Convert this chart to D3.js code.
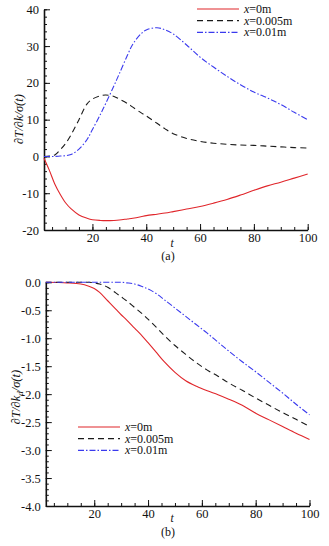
<!DOCTYPE html>
<html>
<head>
<meta charset="utf-8">
<script src="https://cdn.jsdelivr.net/npm/d3@7"></script>
<style>
	body { margin: 0; background: #fff; }
	svg { display: block; }
	text { font-family: 'Liberation Serif', 'DejaVu Serif', serif; fill: #111; }
</style>
</head>
<body>
<svg id="chart" width="329" height="546"></svg>
<script>
// ---- data: panel (a) ----
const tA = [2, 4, 6, 8, 10, 12, 15, 18, 20, 23, 25, 28, 30, 33, 35, 38, 40, 44, 47, 50, 55, 60, 65, 70, 75, 80, 85, 90, 95, 100];
const a_x0 = [-0.5, -3.8, -7.5, -10.3, -12.6, -14.2, -15.9, -16.8, -17.2, -17.4, -17.45, -17.4, -17.3, -17.0, -16.8, -16.4, -16.1, -15.7, -15.4, -15.0, -14.3, -13.6, -12.7, -11.7, -10.5, -9.2, -8.0, -7.0, -5.9, -4.8];
const a_x005 = [0, 0.1, 0.4, 1.8, 3.5, 5.8, 10.0, 14.3, 15.6, 16.5, 16.7, 16.3, 15.6, 14.4, 13.4, 11.9, 11.0, 9.0, 7.5, 6.2, 4.9, 4.1, 3.6, 3.3, 3.1, 3.0, 2.8, 2.6, 2.4, 2.3];
const a_x01 = [0, 0, 0, 0.1, 0.2, 0.5, 2.0, 4.6, 7.3, 11.5, 14.5, 19.2, 22.5, 27.5, 30.5, 33.3, 34.4, 35.0, 34.4, 33.3, 30.3, 27.0, 24.3, 21.8, 19.5, 17.5, 15.9, 14.1, 12.0, 10.0];

// ---- data: panel (b) ----
const tB = [2, 10, 15, 18, 20, 22, 25, 28, 30, 32, 35, 38, 40, 43, 46, 50, 54, 58, 62, 66, 70, 75, 80, 85, 90, 95, 100];
const b_x0 = [0, -0.01, -0.03, -0.07, -0.11, -0.18, -0.33, -0.48, -0.58, -0.67, -0.82, -0.97, -1.08, -1.25, -1.42, -1.61, -1.76, -1.86, -1.94, -2.01, -2.09, -2.2, -2.34, -2.46, -2.58, -2.7, -2.81];
const b_x005 = [0, 0, 0, 0, -0.01, -0.03, -0.09, -0.19, -0.26, -0.33, -0.45, -0.57, -0.66, -0.8, -0.95, -1.13, -1.29, -1.44, -1.57, -1.68, -1.8, -1.93, -2.07, -2.2, -2.33, -2.45, -2.58];
const b_x01 = [0, 0, 0, 0, 0, 0, 0, 0, 0, -0.01, -0.03, -0.08, -0.12, -0.2, -0.31, -0.46, -0.61, -0.76, -0.91, -1.07, -1.23, -1.42, -1.6, -1.79, -1.98, -2.18, -2.37];

const legendLabels = ['0m', '0.005m', '0.01m'];
const xMajor = [20, 40, 60, 80, 100];
const xMinor = d3.range(5, 101, 5);
const yMajorA = d3.range(-20, 41, 10);
const yMinorA = d3.range(-20, 41, 2);
const yMajorB = d3.range(-4, 0.01, 0.5);
const yMinorB = d3.range(-40, 1, 1).map((d) => d / 10);

const styles = [
	{ color: '#e0262b', dash: null },
	{ color: '#1a1a1a', dash: '6,4' },
	{ color: '#3a3aee', dash: '6,2,1.5,2' },
];

const svg = d3.select('#chart');
const fmt = (d) => d3.format('.1f')(d).replace('−', '-');

function panel(cfg) {
	const g = svg.append('g');
	const x = d3.scaleLinear().domain([2, 100]).range(cfg.xRange);
	const y = d3.scaleLinear().domain(cfg.yDomain).range(cfg.yRange);

	// minor ticks
	g.append('g')
		.attr('transform', `translate(0,${cfg.yRange[0]})`)
		.call(d3.axisBottom(x).tickValues(xMinor).tickSize(-3).tickFormat(''))
		.call((a) => a.select('.domain').remove());
	g.append('g')
		.attr('transform', `translate(${cfg.xRange[0]},0)`)
		.call(d3.axisLeft(y).tickValues(cfg.yMinor).tickSize(-3).tickFormat(''))
		.call((a) => a.select('.domain').remove());

	// major
	const xa = g.append('g')
		.attr('transform', `translate(0,${cfg.yRange[0]})`)
		.call(d3.axisBottom(x).tickValues(xMajor).tickSize(-6).tickSizeOuter(0).tickPadding(3));
	g.append('g')
		.attr('transform', `translate(${cfg.xRange[0]},0)`)
		.call(d3.axisLeft(y).tickValues(cfg.yMajor).tickSize(-6).tickSizeOuter(0).tickPadding(5).tickFormat(cfg.yFmt));

	g.selectAll('.tick line').attr('stroke', '#111').attr('stroke-width', 1);
	g.selectAll('.domain').attr('stroke', '#111').attr('stroke-width', 1.6);
	g.selectAll('.tick text')
		.style('font-family', "'Liberation Serif', serif")
		.style('font-size', '12.5px')
		.attr('fill', '#222');
	xa.selectAll('.tick text').attr('dy', '0.72em');

	const line = d3.line()
		.x((d) => x(d[0]))
		.y((d) => y(d[1]))
		.curve(d3.curveCatmullRom.alpha(0.5));

	cfg.series.forEach((s, i) => {
		g.append('path')
			.datum(cfg.t.map((t, k) => [t, s[k]]))
			.attr('fill', 'none')
			.attr('stroke', styles[i].color)
			.attr('stroke-width', 1.1)
			.attr('stroke-dasharray', styles[i].dash)
			.attr('d', line);
	});

	// legend
	const lg = g.append('g');
	legendLabels.forEach((lab, i) => {
		const ly = cfg.legend.y + i * 11.7;
		lg.append('line')
			.attr('x1', cfg.legend.x).attr('x2', cfg.legend.x + 42)
			.attr('y1', ly).attr('y2', ly)
			.attr('stroke', styles[i].color)
			.attr('stroke-width', 1.2)
			.attr('stroke-dasharray', styles[i].dash);
		const t = lg.append('text')
			.attr('x', cfg.legend.x + 47)
			.attr('y', ly + 4)
			.style('font-size', '12px');
		t.append('tspan').style('font-style', 'italic').text('x');
		t.append('tspan').text('=' + lab);
	});

	// axis titles
	g.append('text')
		.attr('x', 172).attr('y', cfg.tY)
		.attr('text-anchor', 'middle')
		.style('font-style', 'italic').style('font-size', '11.5px')
		.text('t');
	g.append('text')
		.attr('x', 168).attr('y', cfg.capY)
		.attr('text-anchor', 'middle')
		.style('font-size', '12px')
		.text(cfg.caption);

	const yt = g.append('text')
		.attr('transform', `translate(${cfg.yTitle[0]},${cfg.yTitle[1]}) rotate(-90)`)
		.attr('text-anchor', 'middle')
		.style('font-size', '12.5px')
		.style('font-style', 'italic');
	cfg.yTitleParts(yt);
}

panel({
	t: tA,
	series: [a_x0, a_x005, a_x01],
	xRange: [44, 307.7],
	yDomain: [-20, 40],
	yRange: [230, 9.3],
	yMajor: yMajorA,
	yMinor: yMinorA,
	yFmt: (d) => String(d),
	legend: { x: 197, y: 9 },
	tY: 247,
	capY: 260,
	caption: '(a)',
	yTitle: [23, 119],
	yTitleParts: (t) => {
		t.text('∂T/∂k/σ(t)');
	},
});

panel({
	t: tB,
	series: [b_x0, b_x005, b_x01],
	xRange: [45.8, 309.5],
	yDomain: [-4, 0],
	yRange: [506, 282.3],
	yMajor: yMajorB,
	yMinor: yMinorB,
	yFmt: fmt,
	legend: { x: 78, y: 427 },
	tY: 522,
	capY: 536,
	caption: '(b)',
	yTitle: [20, 397],
	yTitleParts: (t) => {
		t.append('tspan').text('∂T/∂k');
		t.append('tspan').attr('dy', 3).style('font-size', '9px').text('d');
		t.append('tspan').attr('dy', -3).text('/σ(t)');
	},
});
</script>
</body>
</html>
